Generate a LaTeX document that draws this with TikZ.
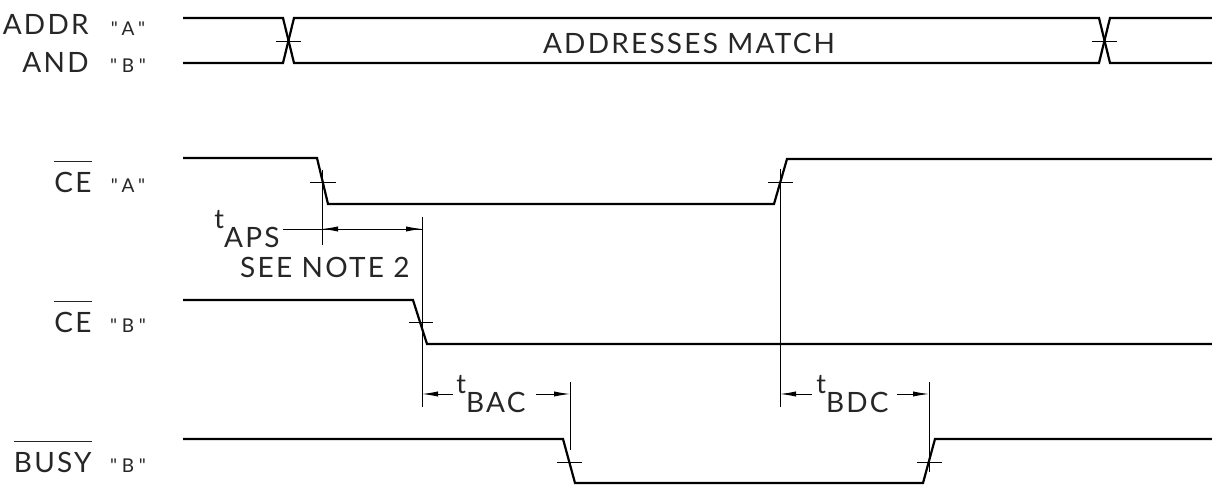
\documentclass[tikz,border=0pt]{standalone}
\usepackage{fontspec}
\setmainfont{Lato}[LetterSpace=8]
\newfontfamily\qfont{Lato}[Ligatures=TeXOff, LetterSpace=25]
\usetikzlibrary{arrows.meta}
\newcommand\barover[1]{\vbox{\hrule height .55pt\kern 5.5pt\hbox{#1}}}
\newcommand\tsym{\raisebox{9.5pt}{\fontsize{13.5}{15}\selectfont t}}
\begin{document}
\begin{tikzpicture}[x=0.5pt,y=-0.5pt,
  sig/.style={line width=1.1pt, line join=miter},
  thinl/.style={line width=0.45pt},
  lbl/.style={font=\fontsize{14}{16}\selectfont, inner sep=0pt, text=black!85},
  qt/.style={font=\qfont\fontsize{9.5}{11}\selectfont, inner sep=0pt, text=black!85},
  dimarrow/.style={thinl, -{Latex[length=8pt,width=2.6pt]}}]
\useasboundingbox (0,0) rectangle (1212,485);
% labels
\node[lbl, anchor=base east] (addr) at (89,35) {ADDR};
\node[qt, anchor=base] (qa1) at (128,36) {"A"};
\node[lbl, anchor=base east] (and) at (89,73) {AND};
\node[qt, anchor=base] (qb1) at (128,73) {"B"};
\node[lbl, anchor=base east] (cea) at (92,193) {\barover{CE}};
\node[qt, anchor=base] (qa2) at (128,193) {"A"};
\node[lbl, anchor=base east] (ceb) at (92,333) {\barover{CE}};
\node[qt, anchor=base] (qb2) at (128,333) {"B"};
\node[lbl, anchor=base east] (busy) at (92,473) {\barover{BUSY}};
\node[qt, anchor=base] (qb3) at (128,473) {"B"};
\node[lbl, anchor=base] (match) at (689,54) {ADDRESSES MATCH};
\node[lbl, anchor=base east] (taps) at (280,248) {\tsym APS};
\node[lbl, anchor=base east] (note) at (410,278) {SEE NOTE 2};
\node[lbl, anchor=base west] (tbac) at (456,413) {\tsym BAC};
\node[lbl, anchor=base west] (tbdc) at (816,413) {\tsym BDC};
% ADDR bus
\draw[sig] (183,18) -- (283,18) -- (294,63) -- (1099,63) -- (1110,18) -- (1212,18);
\draw[sig] (183,63) -- (283,63) -- (294,18) -- (1099,18) -- (1110,63) -- (1212,63);
\draw[thinl] (276,41) -- (301,41);
\draw[thinl] (1092,41) -- (1117,41);
% CE A
\draw[sig] (183,158) -- (317,158) -- (328,204) -- (774,204) -- (787,159) -- (1212,159);
\draw[thinl] (310,182) -- (336,182);
\draw[thinl] (768,182) -- (793,182);
% CE B
\draw[sig] (183,300) -- (413,300) -- (427,344) -- (1212,344);
\draw[thinl] (409,322) -- (433,322);
% BUSY B
\draw[sig] (183,439) -- (563,439) -- (575,483) -- (923,483) -- (935,439) -- (1212,439);
\draw[thinl] (557,462) -- (582,462);
\draw[thinl] (917,462) -- (942,462);
% extension lines
\coordinate (e1t) at (322,170); \coordinate (e1b) at (322,245);
\coordinate (e2t) at (422,217); \coordinate (e2b) at (422,407);
\coordinate (e3t) at (570,382); \coordinate (e3b) at (570,450);
\coordinate (e4t) at (780,169); \coordinate (e4b) at (780,407);
\coordinate (e5t) at (929,382); \coordinate (e5b) at (929,472);
\draw[thinl] (e1t) -- (e1b);
\draw[thinl] (e2t) -- (e2b);
\draw[thinl] (e3t) -- (e3b);
\draw[thinl] (e4t) -- (e4b);
\draw[thinl] (e5t) -- (e5b);
% tAPS dimension
\coordinate (d1s) at (283,229);
\draw[thinl] (d1s) -- (e2t |- d1s);
\draw[dimarrow] (346,229) -- (e1t |- d1s);
\draw[dimarrow] (398,229) -- (e2t |- d1s);
% tBAC dimension
\coordinate (d2a) at (453,394); \coordinate (d2b) at (536,394);
\draw[dimarrow] (d2a) -- (e2t |- d2a);
\draw[dimarrow] (d2b) -- (e3t |- d2b);
% tBDC dimension
\coordinate (d3a) at (812,394); \coordinate (d3b) at (897,394);
\draw[dimarrow] (d3a) -- (e4t |- d3a);
\draw[dimarrow] (d3b) -- (e5t |- d3b);
\end{tikzpicture}
\end{document}
